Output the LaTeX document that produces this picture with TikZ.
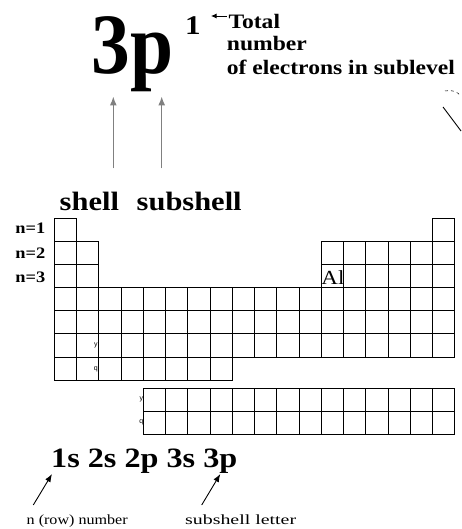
\documentclass[tikz,border=0pt]{standalone}
\usepackage{fontspec}
\setmainfont{Liberation Serif}[FakeStretch=1.15]
\newfontfamily\bigserif{Liberation Serif}[FakeStretch=0.9]
\newfontfamily\wideserif{Liberation Serif}[FakeStretch=1.42]
\newfontfamily\tinysans{Liberation Sans}
\usetikzlibrary{arrows.meta,positioning}

\begin{document}
\begin{tikzpicture}[x=1pt,y=-1pt]
	\tikzstyle{cell} = [rectangle, draw, minimum width=22.25pt, minimum height=23.1pt, inner sep=0pt, line width=0.8pt];
	\tikzstyle{fcell} = [cell, minimum height=23pt];
	\tikzstyle{rowlbl} = [inner sep=0pt, font=\bfseries\fontsize{16}{16}\selectfont];
	\tikzstyle{note} = [inner sep=0pt, anchor=base west, font=\bfseries\fontsize{20.5}{20.5}\selectfont];
	\tikzstyle{tag} = [inner sep=0pt, font=\tinysans\fontsize{7}{7}\selectfont];
	\tikzstyle{upar} = [-{Latex[length=9pt,width=7pt]}, draw=gray, line width=1.2pt];
	\tikzstyle{blkar} = [-{Latex[length=8pt,width=6pt]}, line width=0.9pt];
	\useasboundingbox (0,0) rectangle (461,529);
	
	% the big orbital
	\node[inner sep=0pt, anchor=base west, font=\bigserif\bfseries\fontsize{86}{86}\selectfont] (orb) at (91.5,73.3) {3p};
	\node[inner sep=0pt, anchor=base west, font=\bfseries\fontsize{27}{27}\selectfont] (sup) at (185,35) {1};
	
	\node[note] (tot) at (228.3,28.3) {Total};
	\node[note] (num) at (226.7,50.5) {number};
	\node[note] (ofe) at (226.7,75) {of electrons in sublevel};
	
	\coordinate (tot-tail) at (226.5,16);
	\coordinate (tot-tip) at (211,16);
	\draw[-{Latex[length=5.5pt,width=5pt]}, line width=0.8pt] (tot-tail) -- (tot-tip);
	
	\coordinate (d1) at (445,91);
	\coordinate (d2) at (461,96);
	\draw[dashed, line width=0.5pt] (d1) .. controls (452,89.5) and (457,91.5) .. (d2);
	\coordinate (s1) at (443,107);
	\coordinate (s2) at (461,131);
	\draw[line width=0.9pt] (s1) -- (s2);
	
	% shell / subshell
	\node[inner sep=0pt, anchor=base west, font=\bfseries\fontsize{26.5}{26.5}\selectfont] (shell) at (59.5,210.7) {shell};
	\node[inner sep=0pt, anchor=base west, font=\bfseries\fontsize{26.5}{26.5}\selectfont] (subshell) at (136.5,210.7) {subshell};
	
	\coordinate (sh-tail) at (113.3,168.3);
	\coordinate (sh-tip) at (113.3,96.5);
	\coordinate (sub-tail) at (161.7,168.3);
	\coordinate (sub-tip) at (161.7,96.5);
	\draw[upar] (sh-tail) -- (sh-tip);
	\draw[upar] (sub-tail) -- (sub-tip);
	
	% main table
	\foreach \r/\cols in {0/{0,17}, 1/{0,1,12,13,14,15,16,17}, 2/{0,1,12,13,14,15,16,17}, 3/{0,...,17}, 4/{0,...,17}, 5/{0,...,17}, 6/{0,...,7}}
		\foreach \c in \cols
			\node[cell] (c-\r-\c) at ({54.3+22.25*(\c+0.5)},{218.3+23.1*(\r+0.5)}) {};
	
	% f block
	\foreach \r in {0,1}
		\foreach \c in {0,...,13}
			\node[fcell] (f-\r-\c) at ({143.3+22.25*(\c+0.5)},{388.3+23*(\r+0.5)}) {};
	
	\node[rowlbl, left=8.5pt of c-0-0, yshift=2pt] (n1) {n=1};
	\node[rowlbl, left=8.5pt of c-1-0, yshift=-0.5pt] (n2) {n=2};
	\node[rowlbl, left=8.5pt of c-2-0, yshift=-1.2pt] (n3) {n=3};
	
	\node[inner sep=0pt, anchor=base west, font=\fontsize{20}{20}\selectfont] (al) at ([xshift=0.3pt,yshift=3.4pt]c-2-12.south west) {Al};
	
	\node[tag] (ya) at ([xshift=-2.5pt,yshift=-0.5pt]c-5-2.west) {y};
	\node[tag] (qa) at ([xshift=-2.5pt,yshift=-0.5pt]c-6-2.west) {q};
	\node[tag] (yb) at ([xshift=-1.5pt]f-0-0.west) {y};
	\node[tag] (qb) at ([xshift=-1.5pt]f-1-0.west) {q};
	
	% configuration
	\node[inner sep=0pt, anchor=base west, font=\bfseries\fontsize{28}{28}\selectfont] (conf) at (51,467.3) {1s 2s 2p 3s 3p};
	
	\node[inner sep=0pt, anchor=base west, font=\fontsize{14}{14}\selectfont] (rowno) at (26.5,524.5) {n (row) number};
	\node[inner sep=0pt, anchor=base west, font=\wideserif\fontsize{14}{14}\selectfont] (letter) at (185,524.5) {subshell letter};
	
	\coordinate (rn-tail) at (33.3,505);
	\coordinate (rn-tip) at (52,474);
	\coordinate (sl-tail) at (201.7,505);
	\coordinate (sl-tip) at (220.3,474);
	\draw[blkar] (rn-tail) -- (rn-tip);
	\draw[blkar] (sl-tail) -- (sl-tip);
\end{tikzpicture}
\end{document}
